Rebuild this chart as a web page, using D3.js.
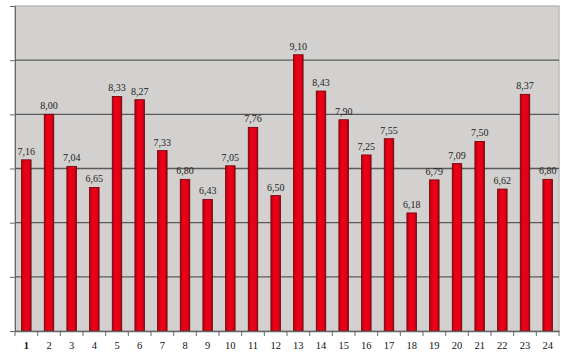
<!DOCTYPE html>
<html><head><meta charset="utf-8">
<script src="https://cdn.jsdelivr.net/npm/d3@7"></script>
<style>body{margin:0;background:#fff}svg{display:block}</style>
</head><body>
<svg id="c" width="578" height="357"></svg>
<script>
const categories = ["1","2","3","4","5","6","7","8","9","10","11","12","13","14","15","16","17","18","19","20","21","22","23","24"];
const values = [7.16,8.00,7.04,6.65,8.33,8.27,7.33,6.80,6.43,7.05,7.76,6.50,9.10,8.43,7.90,7.25,7.55,6.18,6.79,7.09,7.50,6.62,8.37,6.80];
const yTicks = [4,5,6,7,8,9,10];

const svg = d3.select("#c");
const m = {l:15, r:559, t:6, b:331};
const x = d3.scaleBand().domain(categories).range([m.l, m.r]).paddingInner(0.58).paddingOuter(0.29);
const y = d3.scaleLinear().domain([4,10]).range([m.b, m.t]);

const defs = svg.append("defs");
const g = defs.append("linearGradient").attr("id","bg").attr("x1","0").attr("x2","1");
g.append("stop").attr("offset","0").attr("stop-color","#b8000c");
g.append("stop").attr("offset","0.35").attr("stop-color","#ec0018");
g.append("stop").attr("offset","0.75").attr("stop-color","#e30016");
g.append("stop").attr("offset","1").attr("stop-color","#a8000a");

svg.append("rect").attr("x",m.l).attr("y",m.t).attr("width",m.r-m.l).attr("height",m.b-m.t)
  .attr("fill","#d3d1cf").attr("stroke","#bdbbb9").attr("stroke-width",1.5);

svg.append("g").selectAll("line").data(yTicks.slice(1,-1)).join("line")
  .attr("x1",m.l).attr("x2",m.r).attr("y1",d=>y(d)).attr("y2",d=>y(d))
  .attr("stroke","#5a5a5a").attr("stroke-width",1.3);

// y axis
const ya = svg.append("g").attr("transform",`translate(${m.l},0)`)
  .call(d3.axisLeft(y).tickValues(yTicks).tickSize(5).tickFormat(""));
ya.selectAll("path,line").attr("stroke","#666");

// bars
svg.append("g").selectAll("rect").data(values).join("rect")
  .attr("x",(d,i)=>x(categories[i])).attr("width",x.bandwidth())
  .attr("y",d=>y(d)).attr("height",d=>y(4)-y(d))
  .attr("fill","url(#bg)").attr("stroke","#6a0008").attr("stroke-width",0.8);

// value labels
svg.append("g").selectAll("text").data(values).join("text")
  .attr("x",(d,i)=>x(categories[i])+x.bandwidth()/2).attr("y",d=>y(d)-5)
  .attr("text-anchor","middle").attr("font-family","Liberation Serif, serif").attr("font-size",10)
  .attr("fill","#222").text(d=>d.toFixed(2).replace(".",","));

// x axis
const xa = svg.append("g").attr("transform",`translate(0,${m.b})`)
  .call(d3.axisBottom(x).tickSize(0).tickPadding(11));
xa.select(".domain").attr("stroke","#666").attr("stroke-width",1.3);
xa.selectAll("text").attr("font-family","Liberation Serif, serif").attr("font-size",10.5).attr("fill","#111")
  .attr("font-weight",(d,i)=>i===0?"bold":"normal");
// tick marks between categories
const bounds = categories.map((c,i)=>x(c)-x.step()*x.paddingInner()/2).concat([m.r]);
svg.append("g").selectAll("line").data(bounds).join("line")
  .attr("x1",d=>d).attr("x2",d=>d).attr("y1",m.b).attr("y2",m.b+5).attr("stroke","#666");
</script>
</body></html>
